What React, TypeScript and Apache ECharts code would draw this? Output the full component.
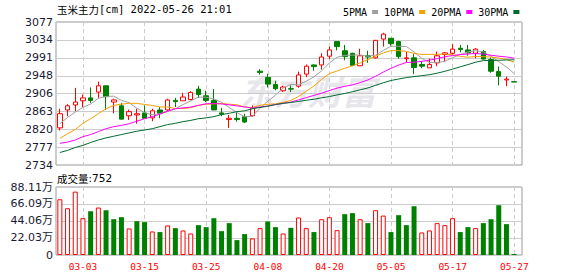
import React, { useEffect, useRef } from 'react';
import * as echarts from 'echarts';

// ---------- data ----------
const dates = [
  '02-28', '03-01', '03-02', '03-03', '03-04', '03-07', '03-08', '03-09', '03-10', '03-11',
  '03-14', '03-15', '03-16', '03-17', '03-18', '03-21', '03-22', '03-23', '03-24', '03-25',
  '03-28', '03-29', '03-30', '03-31', '04-01', '04-06', '04-07', '04-08', '04-11', '04-12',
  '04-13', '04-14', '04-15', '04-18', '04-19', '04-20', '04-21', '04-22', '04-25', '04-26',
  '04-27', '04-28', '04-29', '05-05', '05-06', '05-09', '05-10', '05-11', '05-12', '05-13',
  '05-16', '05-17', '05-18', '05-19', '05-20', '05-23', '05-24', '05-25', '05-26', '05-27',
];

// [open, close, low, high]
const candles: number[][] = [
  [2823, 2857, 2817, 2869], [2866, 2876, 2851, 2880], [2878, 2885, 2863, 2919], [2888, 2895, 2873, 2903],
  [2895, 2889, 2883, 2920], [2909, 2924, 2895, 2934], [2924, 2898, 2866, 2924], [2885, 2890, 2858, 2893],
  [2876, 2844, 2844, 2883], [2852, 2862, 2842, 2867], [2854, 2857, 2833, 2869], [2859, 2846, 2846, 2877],
  [2847, 2864, 2839, 2869], [2866, 2858, 2846, 2873], [2866, 2890, 2863, 2893], [2889, 2886, 2873, 2895],
  [2888, 2897, 2888, 2907], [2891, 2908, 2889, 2911], [2916, 2903, 2895, 2924], [2900, 2889, 2885, 2912],
  [2889, 2866, 2866, 2916], [2859, 2856, 2851, 2871], [2843, 2846, 2823, 2854], [2846, 2843, 2838, 2861],
  [2850, 2837, 2835, 2857], [2852, 2870, 2850, 2877], [2959, 2956, 2951, 2964], [2944, 2928, 2920, 2953],
  [2927, 2917, 2913, 2936], [2912, 2921, 2909, 2924], [2917, 2916, 2909, 2925], [2923, 2950, 2919, 2958],
  [2952, 2971, 2945, 2975], [2974, 2970, 2960, 2975], [2974, 2993, 2963, 3002], [2995, 3010, 2988, 3018],
  [3030, 3018, 3009, 3030], [3008, 2994, 2985, 3022], [3002, 2973, 2972, 3003], [2972, 2996, 2972, 3013],
  [2996, 2993, 2979, 3008], [2991, 3033, 2990, 3034], [3036, 3048, 3018, 3051], [3038, 3025, 3020, 3038],
  [3030, 2994, 2989, 3032], [2989, 2991, 2980, 3005], [2991, 2968, 2952, 3000], [2975, 2971, 2966, 2983],
  [2967, 2975, 2967, 2989], [2979, 2996, 2971, 3006], [2999, 3003, 2982, 3005], [3002, 3012, 2998, 3024],
  [3014, 3011, 3004, 3022], [3010, 3003, 2996, 3022], [3002, 3012, 2990, 3014], [3006, 2988, 2987, 3010],
  [2987, 2959, 2955, 2992], [2958, 2947, 2925, 2970], [2938, 2940, 2923, 2946], [2934, 2933, 2933, 2934],
];

const ma5 = [
  2833, 2848, 2861, 2872, 2880.4, 2893.8, 2898.3, 2899.2, 2889.1, 2883.5,
  2870.1, 2859.8, 2854.5, 2857.2, 2862.9, 2868.8, 2879.0, 2887.8, 2896.9, 2896.5,
  2892.6, 2884.3, 2871.9, 2859.9, 2849.6, 2850.4, 2870.4, 2886.8, 2901.6, 2918.5,
  2927.6, 2926.3, 2935.1, 2945.6, 2959.9, 2978.7, 2992.4, 2996.9, 2997.5, 2998.1,
  2994.7, 2997.8, 3008.6, 3018.9, 3018.6, 3018.3, 3005.3, 2989.8, 2979.8, 2980.1,
  2982.5, 2991.3, 2999.3, 3005.1, 3008.3, 3005.3, 2994.6, 2981.7, 2969.1, 2953.4,
];
const ma10 = [
  2798, 2809, 2819, 2834, 2845, 2857, 2869, 2877, 2880, 2882.0,
  2882.0, 2879.1, 2876.9, 2873.2, 2873.2, 2869.5, 2869.4, 2871.2, 2877.1, 2879.7,
  2880.7, 2881.7, 2879.9, 2878.4, 2873.1, 2871.5, 2877.4, 2879.4, 2880.8, 2884.1,
  2889.0, 2898.4, 2911.0, 2923.6, 2939.2, 2953.2, 2959.4, 2966.0, 2971.6, 2979.0,
  2986.7, 2995.1, 3002.8, 3008.2, 3008.4, 3006.5, 3001.6, 2999.2, 2999.4, 2999.4,
  3000.4, 2998.3, 2994.6, 2992.5, 2994.2, 2993.9, 2993.0, 2990.5, 2987.1, 2980.9,
];
const ma20 = [
  2786, 2789, 2794, 2802, 2807, 2814, 2821, 2826, 2829, 2833,
  2839, 2845, 2850, 2856, 2863, 2869, 2871, 2873, 2877, 2880.9,
  2881.4, 2880.4, 2878.4, 2875.8, 2873.2, 2870.5, 2873.4, 2875.3, 2879.0, 2881.9,
  2884.9, 2890.1, 2895.5, 2901.0, 2906.2, 2912.4, 2918.4, 2922.7, 2926.2, 2931.6,
  2937.9, 2946.8, 2956.9, 2965.9, 2973.8, 2979.9, 2980.5, 2982.6, 2985.5, 2989.2,
  2993.6, 2996.7, 2998.7, 3000.4, 3001.3, 3000.2, 2997.3, 2994.9, 2993.3, 2990.2,
];
const ma30 = [
  2764, 2769, 2776, 2781, 2788, 2794, 2799, 2803, 2807, 2811,
  2815, 2818, 2821, 2826, 2831, 2834, 2838, 2841, 2845, 2847,
  2850, 2855, 2858, 2862, 2864, 2869, 2872, 2875, 2879, 2881.9,
  2883.9, 2886.4, 2889.3, 2891.7, 2895.2, 2898.1, 2902.1, 2905.5, 2909.8, 2914.3,
  2918.8, 2925.1, 2931.2, 2936.7, 2940.2, 2943.7, 2946.1, 2948.2, 2950.6, 2954.2,
  2958.7, 2963.9, 2969.5, 2974.8, 2980.6, 2984.5, 2984.7, 2985.2, 2986.0, 2986.4,
];

const volumes = [
  722000, 606000, 821000, 477000, 567000, 615000, 580000, 464000, 490000, 344000,
  438000, 426000, 305000, 297000, 383000, 348000, 318000, 279000, 387000, 361000,
  477000, 309000, 413000, 193000, 271000, 215000, 348000, 434000, 361000, 279000,
  352000, 486000, 348000, 297000, 464000, 490000, 322000, 529000, 542000, 464000,
  413000, 580000, 511000, 297000, 516000, 387000, 632000, 292000, 318000, 413000,
  387000, 477000, 297000, 361000, 348000, 413000, 464000, 645000, 400000, 752,
];

const priceTicks = [2734, 2777, 2820, 2863, 2906, 2948, 2991, 3034, 3077];
const volTicks = [0, 220300, 440600, 660900, 881100];
const xLabels = ['03-03', '03-15', '03-25', '04-08', '04-20', '05-05', '05-17', '05-27'];

const maNames = ['5PMA', '10PMA', '20PMA', '30PMA'];
const maColors = ['#a0a0a0', '#f5a000', '#ff00ff', '#006b30'];

const RED = '#ff0000';
const GREEN = '#008000';

export default function App() {
  const ref = useRef<HTMLDivElement>(null);

  useEffect(() => {
    if (!ref.current) return;
    const chart = echarts.init(ref.current, undefined, { renderer: 'svg' });

    const labelIdx = xLabels.map((l) => dates.indexOf(l));
    const n = dates.length;

    const volData = volumes.map((v, i) => {
      const up = i === 0 ? candles[i][1] >= candles[i][0] : candles[i][1] >= candles[i - 1][1];
      return {
        value: v,
        itemStyle: up
          ? { color: '#ffffff', borderColor: RED, borderWidth: 1 }
          : { color: GREEN, borderColor: GREEN, borderWidth: 0 },
      };
    });

    const mas = [ma5, ma10, ma20, ma30];

    const frameX = (gridIndex: number, showLabel: boolean) => ({
      type: 'value',
      gridIndex,
      min: -0.5,
      max: n,
      axisLine: { show: false },
      axisTick: { show: false, customValues: labelIdx },
      axisLabel: {
        show: showLabel,
        customValues: labelIdx,
        formatter: (v: number) => dates[Math.round(v)],
        color: RED,
        fontFamily: 'DejaVu Sans Mono',
        fontSize: 9.5,
        margin: 6,
      },
      splitLine: { show: true, lineStyle: { color: '#cccccc', type: [4, 3], width: 1 } },
    });

    const option: any = {
      animation: false,
      backgroundColor: '#ffffff',
      grid: [
        { left: 56, top: 22, width: 462, height: 143 },
        { left: 56, top: 187, width: 462, height: 68 },
        { left: 56, top: 22, width: 466, height: 143, show: true, borderColor: '#999999', borderWidth: 1 },
        { left: 56, top: 187, width: 466, height: 68, show: true, borderColor: '#999999', borderWidth: 1 },
      ],
      xAxis: [
        { type: 'category', gridIndex: 0, data: dates, boundaryGap: true, show: false },
        { type: 'category', gridIndex: 1, data: dates, boundaryGap: true, show: false },
        frameX(2, false),
        frameX(3, true),
      ],
      yAxis: [
        { type: 'value', gridIndex: 0, min: priceTicks[0], max: priceTicks[priceTicks.length - 1], show: false },
        { type: 'value', gridIndex: 1, min: volTicks[0], max: volTicks[volTicks.length - 1], show: false },
        {
          type: 'value',
          gridIndex: 2,
          min: priceTicks[0],
          max: priceTicks[priceTicks.length - 1],
          axisLine: { show: false },
          axisTick: { show: false, customValues: priceTicks },
          axisLabel: {
            customValues: priceTicks,
            formatter: (v: number) => String(Math.round(v)),
            color: '#1a1a33',
            fontFamily: 'DejaVu Sans',
            fontSize: 11,
            margin: 3,
          },
          splitLine: { show: true, lineStyle: { color: '#cccccc', width: 1 } },
        },
        {
          type: 'value',
          gridIndex: 3,
          min: volTicks[0],
          max: volTicks[volTicks.length - 1],
          axisLine: { show: false },
          axisTick: { show: false, customValues: volTicks },
          axisLabel: {
            customValues: volTicks,
            formatter: (v: number) => (v === 0 ? '0' : (v / 10000).toFixed(2) + '万'),
            color: '#1a1a33',
            fontFamily: 'DejaVu Sans, Noto Sans CJK SC',
            fontSize: 11,
            margin: 3,
          },
          splitLine: { show: true, lineStyle: { color: '#cccccc', width: 1 } },
        },
      ],
      legend: {
        data: maNames,
        left: 338,
        top: 2,
        icon: 'rect',
        itemWidth: 6,
        itemHeight: 4,
        itemGap: 6,
        align: 'right',
        selectedMode: false,
        textStyle: { fontFamily: 'DejaVu Sans Mono', fontSize: 10, color: '#000000' },
      },
      graphic: [
        {
          type: 'text',
          x: 240,
          y: 73,
          z: 0,
          silent: true,
          style: {
            text: '东方财富',
            fill: '#e6e6eb',
            font: 'italic bold 34px "Noto Sans CJK SC"',
          },
        },
        {
          type: 'text',
          x: 57,
          y: 9,
          style: {
            text: '{c|玉米主力}{a|[cm] 2022-05-26 21:01}',
            verticalAlign: 'middle',
            rich: {
              c: { fontFamily: 'Noto Sans CJK SC', fontSize: 10.5, fill: '#000' },
              a: { fontFamily: 'DejaVu Sans Mono', fontSize: 10.5, fill: '#000' },
            },
          },
        },
        {
          type: 'text',
          x: 57,
          y: 178,
          style: {
            text: '{c|成交量}{a|:' + String(volumes[volumes.length - 1]) + '}',
            verticalAlign: 'middle',
            rich: {
              c: { fontFamily: 'Noto Sans CJK SC', fontSize: 10.5, fill: '#000' },
              a: { fontFamily: 'DejaVu Sans', fontSize: 10.5, fill: '#000' },
            },
          },
        },
      ],
      series: [
        {
          type: 'candlestick',
          xAxisIndex: 0,
          yAxisIndex: 0,
          data: candles,
          barWidth: 5,
          itemStyle: {
            color: '#ffffff',
            color0: GREEN,
            borderColor: RED,
            borderColor0: GREEN,
            borderWidth: 1,
          },
          z: 3,
        },
        ...maNames.map((name, k) => ({
          name,
          type: 'line',
          xAxisIndex: 0,
          yAxisIndex: 0,
          data: mas[k],
          symbol: 'none',
          showSymbol: false,
          itemStyle: { color: maColors[k] },
          lineStyle: { color: maColors[k], width: 1 },
          z: 4,
        })),
        {
          type: 'bar',
          xAxisIndex: 1,
          yAxisIndex: 1,
          data: volData,
          barWidth: 5,
          barMinHeight: 1,
        },
      ],
    };

    chart.setOption(option);
    return () => chart.dispose();
  }, []);

  return (
    <div
      ref={ref}
      style={{ position: 'fixed', left: 0, top: 0, width: 578, height: 276, background: '#fff' }}
    />
  );
}
